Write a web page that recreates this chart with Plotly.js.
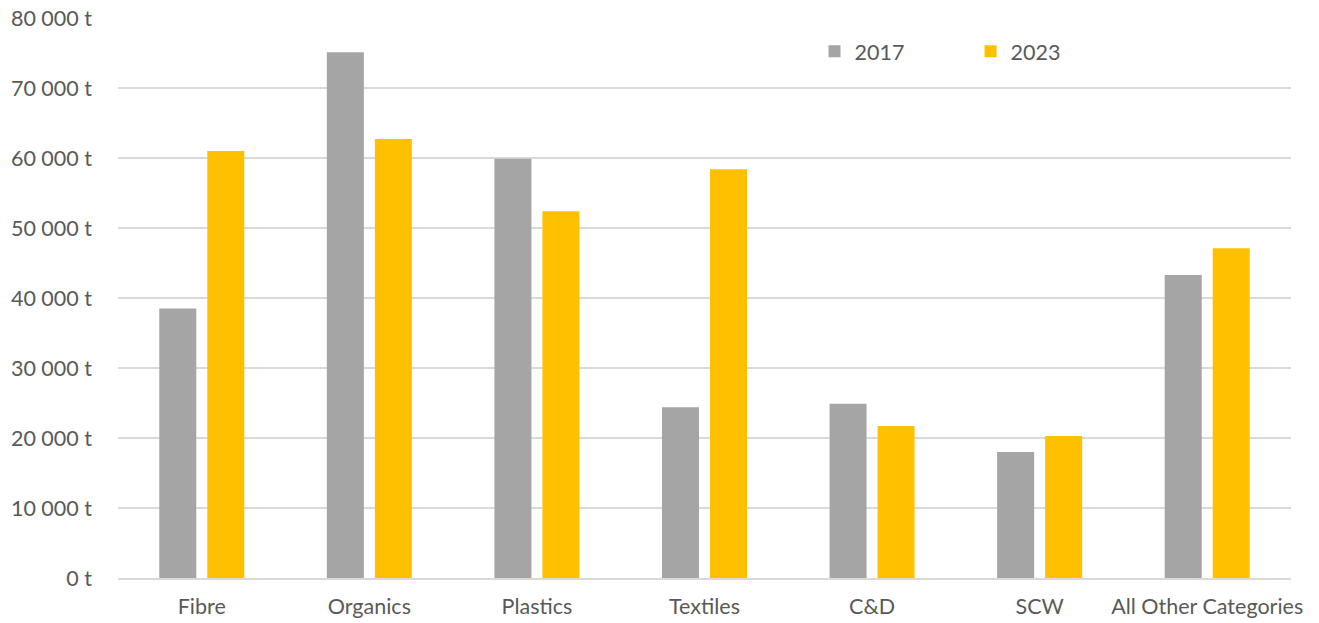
<!DOCTYPE html>
<html>
<head>
<meta charset="utf-8">
<script src="https://cdn.plot.ly/plotly-3.0.1.min.js"></script>
<style>html,body{margin:0;padding:0;background:#fff;}#chart{width:1319px;height:623px;}</style>
</head>
<body>
<div id="chart"></div>
<script>
const categories = ["Fibre", "Organics", "Plastics", "Textiles", "C&D", "SCW", "All Other Categories"];
const values2017 = [38500, 75100, 59900, 24400, 24900, 18000, 43300];
const values2023 = [61000, 62700, 52400, 58400, 21700, 20300, 47100];
const seriesNames = ["2017", "2023"];

const font = {family: "Lato, Carlito, 'Open Sans', sans-serif", size: 21.5, color: "#595959"};

const traces = [
  {type: "bar", name: seriesNames[0], x: categories, y: values2017, marker: {color: "#A5A5A5"}, hoverinfo: "none"},
  {type: "bar", name: seriesNames[1], x: categories, y: values2023, marker: {color: "#FFC000"}, hoverinfo: "none"}
];

const layout = {
  width: 1319, height: 623,
  margin: {l: 118, r: 28, t: 18, b: 45},
  paper_bgcolor: "#fff", plot_bgcolor: "#fff",
  font: font,
  separators: ". ",
  barmode: "group",
  bargap: 0.427,
  bargroupgap: 0.229,
  showlegend: true,
  legend: {orientation: "h", x: 0.5938, y: 0.977, xanchor: "left", yanchor: "top", font: font, entrywidth: 111, bgcolor: "rgba(0,0,0,0)"},
  xaxis: {type: "category", showgrid: false, showline: true, linecolor: "#D9D9D9", linewidth: 1.5, ticks: "", tickfont: font, ticklabelstandoff: 9, fixedrange: true},
  yaxis: {range: [0, 80000], dtick: 10000, tickformat: ",d", ticksuffix: " t", showgrid: true, gridcolor: "#D9D9D9", gridwidth: 1.5, zeroline: false, showline: false, ticks: "", tickfont: font, ticklabelstandoff: 25, fixedrange: true}
};

Plotly.newPlot("chart", traces, layout, {displayModeBar: false, staticPlot: true});
</script>
</body>
</html>
